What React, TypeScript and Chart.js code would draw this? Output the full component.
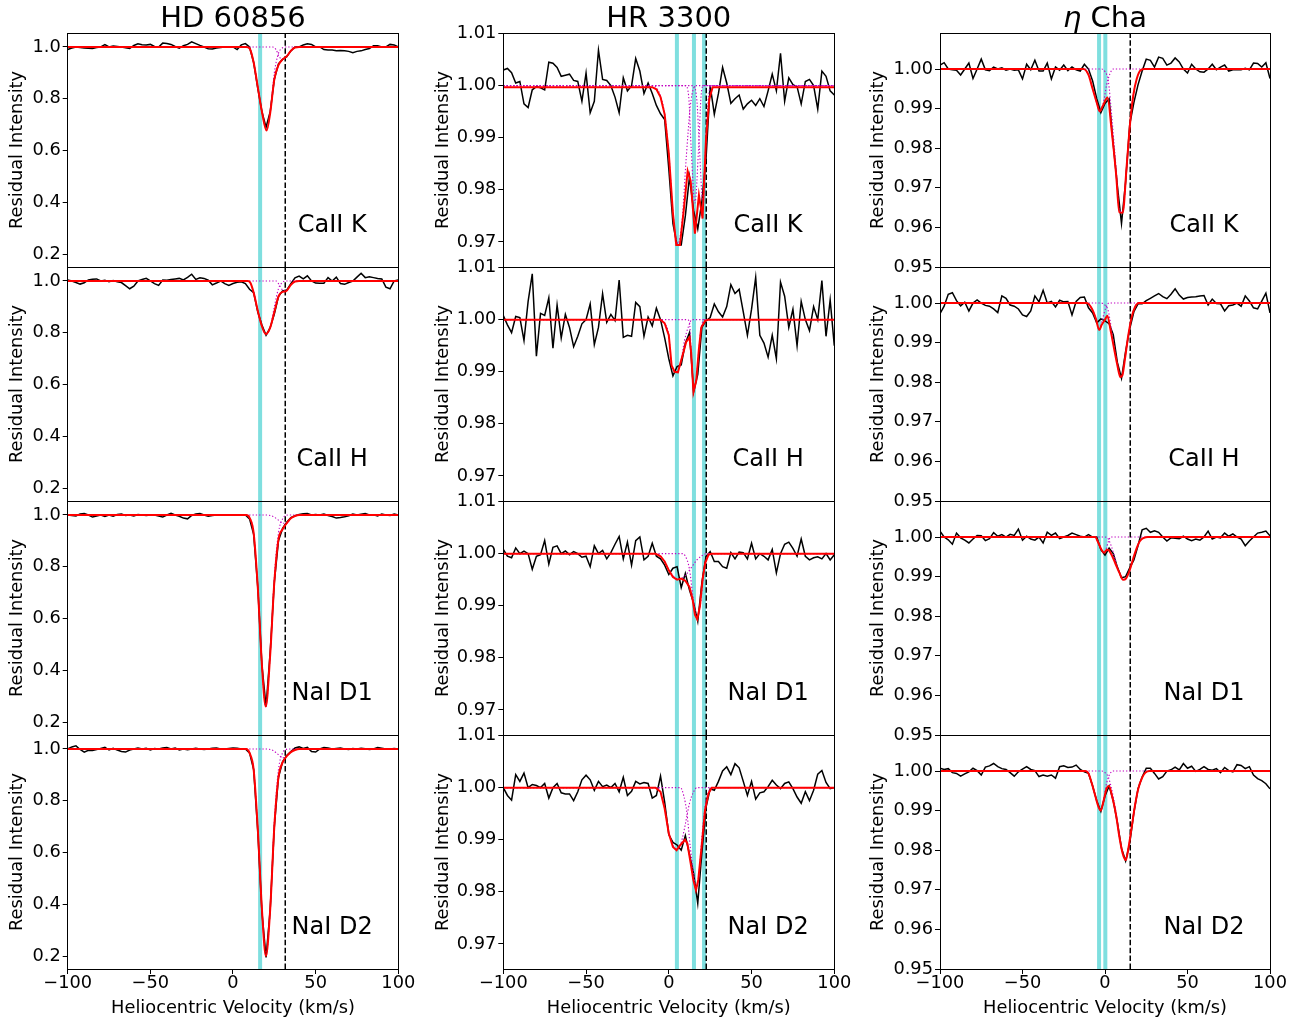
import React, { useEffect, useRef } from "react";
import { Chart, registerables } from "chart.js";

Chart.register(...registerables);

// ---------------- DATA ----------------
const VELOCITY = [
  -100, -97.5, -95, -92.5, -90, -87.5, -85, -82.5, -80, -77.5,
  -75, -72.5, -70, -67.5, -65, -62.5, -60, -57.5, -55, -52.5,
  -50, -47.5, -45, -42.5, -40, -37.5, -35, -32.5, -30, -27.5,
  -25, -22.5, -20, -17.5, -15, -12.5, -10, -7.5, -5, -2.5,
  0, 2.5, 5, 7.5, 10, 12.5, 15, 17.5, 20, 22.5,
  25, 27.5, 30, 32.5, 35, 37.5, 40, 42.5, 45, 47.5,
  50, 52.5, 55, 57.5, 60, 62.5, 65, 67.5, 70, 72.5,
  75, 77.5, 80, 82.5, 85, 87.5, 90, 92.5, 95, 97.5,
  100,
];

const STARS = ["HD 60856", "HR 3300", "η Cha"];
const LINES = ["CaII K", "CaII H", "NaI D1", "NaI D2"];
const X_TICKS = [-100, -50, 0, 50, 100];
const HD60856_Y_TICKS = [0.2, 0.4, 0.6, 0.8, 1.0];
const HR3300_Y_TICKS = [0.97, 0.98, 0.99, 1.0, 1.01];
const ETACHA_Y_TICKS = [0.95, 0.96, 0.97, 0.98, 0.99, 1.0];
const HD60856_Y_RANGE = [0.15, 1.054];
const HR3300_Y_RANGE = [0.9652, 1.0101];
const ETACHA_Y_RANGE = [0.95, 1.0091];

const HD60856_CLOUD_VEL = [16.4];
const HD60856_STAR_VEL = 31.6;
const HR3300_CLOUD_VEL = [4.9, 15.2, 21.3];
const HR3300_STAR_VEL = 22.5;
const ETACHA_CLOUD_VEL = [-3.6, 0.2];
const ETACHA_STAR_VEL = 15.3;

// observed spectra (on VELOCITY grid)
const HD60856_CAK = [
  0.99, 0.996, 1.0, 0.998, 0.996, 0.995, 0.994, 0.998, 1.0, 1.009,
  1.0, 1.004, 1.002, 1.0, 0.997, 0.994, 1.006, 1.012, 1.009, 1.008,
  1.01, 1.002, 1.0, 1.015, 1.013, 1.01, 1.002, 0.995, 1.005, 1.01,
  1.02, 1.013, 1.006, 1.0, 0.993, 0.992, 0.996, 0.998, 1.0, 1.0,
  1.0, 0.99, 1.008, 1.013, 1.0, 0.94, 0.84, 0.75, 0.69, 0.75,
  0.875, 0.935, 0.952, 0.962, 0.985, 1.0, 1.0, 1.008, 1.012, 1.01,
  1.0, 1.0, 0.99, 0.988, 0.988, 0.985, 0.986, 0.985, 0.983, 0.978,
  0.983, 0.985, 0.99, 0.994, 1.005, 1.005, 1.0, 1.0, 1.01, 1.008,
  1.0,
];
const HD60856_CAH = [
  1.004, 1.0, 0.994, 0.988, 0.993, 1.004, 1.007, 1.008, 1.0, 1.003,
  0.997, 1.002, 0.997, 0.994, 0.982, 0.97, 0.98, 1.0, 1.006, 1.01,
  1.0, 0.99, 0.983, 1.004, 1.003, 1.006, 1.008, 1.01, 1.004, 1.014,
  1.026, 1.006, 1.012, 1.01, 1.003, 0.985, 0.992, 1.0, 0.99, 0.983,
  0.99, 0.995, 0.997, 0.99, 0.968, 0.955, 0.88, 0.83, 0.79, 0.82,
  0.872, 0.94, 0.962, 0.965, 0.99, 1.012, 1.019, 1.008, 1.02, 1.0,
  0.992, 0.991, 0.991, 1.013, 1.0, 1.015, 0.99, 0.987, 0.994, 1.0,
  1.015, 1.03, 1.013, 1.016, 1.013, 1.01, 1.008, 0.976, 0.97, 1.0,
  1.004,
];
const HD60856_NAD1 = [
  1.0, 0.998, 0.996, 1.004, 1.006, 1.0, 0.992, 0.996, 1.0, 0.994,
  1.0, 0.995, 1.002, 1.004, 0.998, 1.0, 0.996, 1.002, 1.0, 0.998,
  1.0, 1.0, 0.996, 0.992, 1.0, 1.006, 1.0, 0.995, 0.988, 0.985,
  0.998, 1.004, 1.006, 1.0, 0.995, 0.998, 1.0, 1.0, 1.0, 0.999,
  1.0, 1.0, 1.001, 1.0, 0.985, 0.925, 0.72, 0.42, 0.26, 0.47,
  0.74, 0.9, 0.948, 0.972, 0.99, 0.997, 1.002, 1.005, 1.006, 1.0,
  1.002, 1.0, 1.004, 0.998, 0.994, 0.988, 0.99, 0.993, 0.997, 1.004,
  1.0, 1.003, 1.006, 1.0, 1.001, 0.996, 1.004, 1.0, 0.998, 1.004,
  1.0,
];
const HD60856_NAD2 = [
  1.0, 1.008, 1.012, 0.998, 0.988, 0.995, 0.994, 0.998, 1.002, 1.006,
  0.996, 1.003, 0.996, 0.99, 0.988, 0.996, 1.0, 1.004, 1.0, 1.003,
  0.996, 1.002, 1.0, 1.004, 1.006, 1.0, 1.004, 0.996, 1.0, 0.997,
  1.0, 1.003, 1.0, 0.998, 1.0, 1.003, 1.004, 1.0, 1.0, 1.002,
  1.004, 1.003, 1.0, 1.0, 0.985, 0.92, 0.68, 0.37, 0.195, 0.38,
  0.7, 0.89, 0.95, 0.975, 0.99, 1.004, 1.008, 1.002, 1.006, 0.99,
  0.988, 1.0, 1.006, 1.004, 1.0, 1.002, 1.004, 1.0, 0.998, 1.002,
  1.0, 1.003, 1.001, 0.998, 1.0, 1.006, 1.003, 1.0, 1.0, 1.002,
  1.0,
];
const HR3300_CAK = [
  1.003, 1.0033, 1.0025, 1.0005, 1.0008, 0.9965, 0.9958, 0.9992, 0.9998, 0.9996,
  0.9992, 1.0045, 1.0043, 1.0035, 1.0018, 1.002, 1.0022, 1.001, 1.0008, 0.997,
  1.0024, 0.9948, 0.997, 1.0068, 1.0012, 1.001, 1.0, 0.9978, 0.9948, 1.0015,
  0.999, 1.0, 1.0052, 1.0028, 0.9985, 1.0005, 0.9985, 0.9962, 0.9946, 0.9935,
  0.984, 0.9735, 0.9694, 0.9694, 0.975, 0.9825, 0.976, 0.9725, 0.9778, 0.986,
  1.0, 0.9945, 0.9985, 1.0035, 1.0005, 0.9966, 0.9975, 0.9982, 0.9955, 0.9965,
  0.9972, 0.9962, 0.9975, 0.996, 0.999, 1.0022, 0.999, 1.0062, 0.997, 1.0015,
  1.0002, 0.9998, 0.9965, 1.0008, 1.0012, 1.0, 0.9955, 1.0028, 1.0018, 0.999,
  0.9982,
];
const HR3300_CAH = [
  1.0008, 0.999, 0.9975, 1.0006, 1.0004, 0.996, 1.0035, 1.0088, 0.993, 1.0012,
  1.0008, 1.0042, 0.9945, 1.0028, 0.9965, 1.001, 0.9985, 0.9948, 0.9968, 0.9992,
  1.0, 1.003, 0.9952, 0.9985, 1.005, 0.9995, 1.001, 0.9998, 1.0076, 0.9966,
  0.997, 0.9968, 1.0033, 1.0025, 0.9968, 1.0005, 0.9988, 1.0022, 1.0, 0.9965,
  0.9925, 0.9892, 0.991, 0.9913, 0.9955, 0.9975, 0.9862, 0.9895, 0.9985, 0.9998,
  1.0004, 1.003, 1.0015, 1.0005, 1.0025, 1.0067, 1.005, 1.0058, 1.0015, 0.997,
  1.002, 1.0081, 0.997, 0.9955, 0.9928, 0.997, 0.9925, 1.0072, 1.0045, 0.9985,
  1.002, 0.995, 1.0035, 1.0, 0.9979, 1.0025, 1.0, 1.0075, 0.9968, 1.0038,
  0.995,
];
const HR3300_NAD1 = [
  1.0008, 0.9995, 0.9992, 1.0011, 1.0, 1.0005, 1.0, 0.997, 0.9995, 0.9998,
  1.0025, 0.998, 1.0012, 1.0015, 1.0, 1.0005, 0.9998, 1.0004, 1.0, 0.9993,
  0.9995, 0.9975, 1.0015, 1.0, 1.0006, 0.999, 1.0002, 1.0018, 1.0033, 0.999,
  1.0022, 0.9978, 1.0025, 1.0032, 0.9988, 0.9995, 1.002, 0.9995, 0.999, 0.9978,
  0.996, 0.9972, 0.9975, 0.9935, 0.9962, 0.993, 0.9905, 0.987, 0.9945, 0.9995,
  1.0004, 0.9985, 0.9985, 0.9975, 0.9972, 1.0002, 0.999, 1.0003, 1.0002, 0.999,
  1.002, 0.999, 1.0, 0.9995, 0.9988, 1.0008, 0.9963, 1.0, 1.0018, 1.0022,
  1.001, 0.9995, 1.0028, 0.9995, 0.9988, 0.9992, 0.9994, 0.999, 1.0, 0.9988,
  0.9998,
];
const HR3300_NAD2 = [
  1.0, 0.9985, 0.9976, 1.0025, 1.0012, 1.0028, 1.0, 1.0006, 1.0004, 1.0,
  1.0008, 0.998, 1.0, 1.0008, 0.999, 0.9988, 0.9988, 0.9975, 0.9992, 1.0015,
  1.0024, 1.0015, 0.9995, 1.0012, 1.0002, 1.0005, 1.0, 1.0008, 0.9992, 1.002,
  0.9985, 0.9993, 1.0012, 1.0007, 1.001, 1.0008, 0.998, 0.9985, 1.0022, 0.9972,
  0.991, 0.9895, 0.989, 0.988, 0.9908, 0.9872, 0.9835, 0.9778, 0.9875, 0.9962,
  0.9998, 0.9995, 1.0012, 1.0032, 1.004, 1.0025, 1.0046, 1.0038, 1.0012, 0.9985,
  1.0012, 0.9978, 0.999, 0.9992, 1.0002, 1.0014, 1.0005, 0.9998, 1.0008, 1.0011,
  0.9998, 0.9982, 0.997, 0.9992, 0.9975, 0.9995, 1.0026, 1.0033, 1.001, 0.9998,
  1.0,
];
const ETACHA_CAK = [
  1.001, 1.0016, 1.0, 0.9998, 0.9997, 0.9985, 1.0, 1.0015, 0.9976, 1.0,
  1.0025, 0.9998, 0.9996, 1.0005, 1.0, 1.0003, 0.9997, 1.0, 0.9997, 0.9998,
  0.9975, 1.0012, 0.9998, 1.0022, 0.9995, 0.9995, 1.0015, 0.9975, 1.0005, 0.9997,
  1.001, 0.9996, 1.0005, 0.9998, 0.9995, 1.0012, 1.0, 0.997, 0.9925, 0.989,
  0.9913, 0.9925, 0.981, 0.9705, 0.961, 0.9715, 0.986, 0.9915, 0.996, 0.9995,
  1.0025, 1.0022, 1.0005, 1.003, 1.0027, 1.001, 1.0015, 1.0028, 1.0018, 1.0,
  0.999, 1.0012, 1.0, 0.9993, 0.9992, 1.0, 1.0012, 0.9998, 1.0005, 1.001,
  0.9995, 0.9998, 0.9999, 0.9998, 1.0002, 0.9998, 1.0015, 1.0014, 1.0005, 1.0016,
  0.9976,
];
const ETACHA_CAH = [
  0.9973, 0.9992, 1.0022, 1.0026, 1.0006, 0.9993, 1.0002, 0.998, 1.0, 1.0008,
  1.0, 0.9994, 0.9992, 0.9985, 0.9976, 1.0018, 1.0012, 0.9995, 0.9992, 0.9985,
  0.997, 0.9966, 0.998, 1.0018, 1.0003, 1.0032, 1.0, 1.0004, 0.999, 1.0007,
  1.0003, 1.0004, 0.997, 1.0004, 1.0014, 1.0015, 0.9988, 0.9975, 0.995, 0.996,
  0.9955, 0.9948, 0.992, 0.985, 0.981, 0.9878, 0.9935, 0.9978, 0.9998, 0.9998,
  1.0006, 1.0012, 1.0018, 1.0024, 1.0016, 1.0011, 1.0022, 1.0036, 1.002, 1.001,
  1.0014, 1.0015, 1.0016, 1.0018, 1.0019, 0.9995, 1.001, 0.9999, 0.9998, 0.998,
  0.9993, 0.9995, 1.0, 0.9992, 1.0018, 1.0005, 0.9988, 0.9985, 1.0005, 1.0025,
  0.9975,
];
const ETACHA_NAD1 = [
  1.0015, 1.0, 0.9993, 0.9982, 1.001, 0.9998, 0.9992, 0.9985, 0.9995, 1.0004,
  1.0003, 0.9991, 0.9996, 1.0011, 1.0002, 1.0006, 1.0, 1.0007, 1.0004, 1.002,
  0.9992, 1.0002, 0.9995, 0.9992, 1.0, 0.9985, 1.0012, 1.0004, 1.001, 0.9996,
  1.0, 1.0004, 1.001, 1.0006, 1.0002, 1.0, 1.0006, 1.0, 1.0, 0.9968,
  0.9954, 0.9972, 0.9958, 0.9924, 0.9897, 0.99, 0.9922, 0.9942, 0.9978, 1.0018,
  1.0022, 1.0012, 1.0016, 1.0012, 1.0, 0.999, 0.9998, 0.9997, 0.9996, 1.0002,
  0.9995, 0.9991, 0.9995, 0.9992, 1.0, 1.0015, 0.9995, 1.0, 0.9998, 1.001,
  1.0002, 1.0008, 1.0, 0.9995, 0.9978, 0.999, 1.0, 1.001, 1.0012, 1.0015,
  1.0003,
];
const ETACHA_NAD2 = [
  1.0007, 1.0004, 1.0006, 0.9996, 0.9994, 0.9987, 0.9993, 0.9998, 1.0007, 1.0001,
  0.999, 1.001, 1.0013, 1.0019, 1.0011, 1.0006, 1.0004, 0.9996, 0.9987, 0.9998,
  1.0005, 1.0011, 1.0004, 1.0001, 0.9986, 0.999, 0.9987, 0.999, 0.9982, 1.0011,
  1.0013, 1.0009, 1.001, 1.0015, 1.0004, 0.9998, 0.9994, 0.9962, 0.9925, 0.9898,
  0.9937, 0.9962, 0.9925, 0.987, 0.9805, 0.9773, 0.9818, 0.9895, 0.9955, 0.9985,
  1.0007, 1.0007, 0.9994, 0.998, 0.9986, 1.0, 1.0003, 1.001, 1.0003, 1.0019,
  1.0007, 1.0012, 0.9999, 1.0004, 1.0011, 1.0004, 1.0002, 1.0006, 0.9996, 1.0009,
  1.0001, 0.9998, 1.0016, 1.0014, 1.0006, 1.0011, 0.999, 0.9981, 0.9976, 0.9968,
  0.9955,
];

// fitted profiles [velocity, intensity]
const HD60856_CAK_FIT = [[-100, 1], [8, 1], [10, 0.995], [12.5, 0.94], [15, 0.845], [17.5, 0.75], [20.3, 0.677], [22.5, 0.745], [25, 0.875], [27.5, 0.93], [30, 0.952], [32.5, 0.964], [35, 0.985], [37.5, 0.998], [40, 1], [100, 1]];
const HD60856_CAK_C1 = [[-100, 1], [8, 1], [10, 0.995], [12.5, 0.94], [15, 0.845], [17.5, 0.75], [20.3, 0.68], [22.5, 0.75], [25, 0.9], [27.5, 0.975], [30, 0.997], [32, 1], [100, 1]];
const HD60856_CAK_C2 = [[-100, 1], [24, 1], [26, 0.99], [28, 0.962], [30, 0.952], [32.5, 0.964], [35, 0.985], [37.5, 0.998], [40, 1], [100, 1]];
const HD60856_CAH_FIT = [[-100, 1], [9, 1], [10.5, 0.993], [12.5, 0.955], [15, 0.885], [17.5, 0.825], [19.8, 0.795], [22.5, 0.82], [25, 0.88], [27.5, 0.94], [30, 0.958], [32, 0.96], [35, 0.985], [37.5, 0.998], [40, 1], [100, 1]];
const HD60856_CAH_C1 = [[-100, 1], [9, 1], [10.5, 0.993], [12.5, 0.955], [15, 0.885], [17.5, 0.825], [19.8, 0.795], [22.5, 0.82], [25, 0.9], [27.5, 0.97], [30, 0.995], [32, 1], [100, 1]];
const HD60856_CAH_C2 = [[-100, 1], [26, 1], [28, 0.985], [30, 0.965], [32, 0.962], [35, 0.985], [37.5, 0.998], [40, 1], [100, 1]];
const HD60856_NAD1_FIT = [[-100, 1], [8, 1], [10, 0.99], [12.5, 0.93], [15, 0.72], [17.5, 0.42], [19.8, 0.26], [22.5, 0.46], [25, 0.74], [27.5, 0.905], [30, 0.945], [32.5, 0.968], [35, 0.987], [37.5, 0.996], [40, 1], [100, 1]];
const HD60856_NAD1_C1 = [[-100, 1], [8, 1], [10, 0.99], [12.5, 0.93], [15, 0.72], [17.5, 0.42], [19.8, 0.26], [22.5, 0.46], [25, 0.76], [27.5, 0.93], [30, 0.985], [32, 0.998], [34, 1], [100, 1]];
const HD60856_NAD1_C2 = [[-100, 1], [20, 1], [24, 0.995], [27.5, 0.98], [30, 0.968], [32.5, 0.968], [35, 0.987], [37.5, 0.996], [40, 1], [100, 1]];
const HD60856_NAD2_FIT = [[-100, 1], [8, 1], [10, 0.985], [12.5, 0.92], [15, 0.69], [17.5, 0.38], [19.9, 0.2], [22.5, 0.38], [25, 0.7], [27.5, 0.89], [30, 0.948], [32.5, 0.972], [35, 0.988], [37.5, 0.996], [40, 1], [100, 1]];
const HD60856_NAD2_C1 = [[-100, 1], [8, 1], [10, 0.985], [12.5, 0.92], [15, 0.69], [17.5, 0.38], [19.9, 0.2], [22.5, 0.38], [25, 0.72], [27.5, 0.92], [30, 0.985], [32, 0.998], [34, 1], [100, 1]];
const HD60856_NAD2_C2 = [[-100, 1], [20, 1], [24, 0.995], [27.5, 0.978], [30, 0.966], [32.5, 0.972], [35, 0.988], [37.5, 0.996], [40, 1], [100, 1]];

const HR3300_CAK_FIT = [[-100, 0.9997], [-10, 0.9997], [-7.5, 0.9993], [-5, 0.9978], [-2.5, 0.9945], [0, 0.987], [2.5, 0.9755], [4.5, 0.9694], [6.7, 0.9694], [9, 0.976], [11.4, 0.9836], [13.2, 0.9817], [15.8, 0.9716], [18.2, 0.979], [20.4, 0.9745], [22.5, 0.9898], [24.5, 0.9975], [26.5, 0.9997], [100, 0.9997]];
const HR3300_CAK_C1 = [[-100, 1], [-10, 1], [-7.5, 0.9996], [-5, 0.998], [-2.5, 0.9945], [0, 0.987], [2.5, 0.9758], [5.5, 0.9697], [8, 0.974], [10.5, 0.986], [13, 0.996], [15, 0.9995], [17, 1], [100, 1]];
const HR3300_CAK_C2 = [[-100, 1], [10, 1], [12, 0.998], [13.5, 0.988], [15.8, 0.9775], [18, 0.988], [19.5, 0.998], [21, 1], [100, 1]];
const HR3300_CAK_C3 = [[-100, 1], [15, 1], [17, 0.997], [18.5, 0.988], [20.5, 0.978], [22.5, 0.99], [24, 0.998], [26, 1], [100, 1]];
const HR3300_CAH_FIT = [[-100, 1], [-5, 1], [-2.5, 0.9993], [0, 0.997], [1.7, 0.9912], [3.5, 0.99], [5.5, 0.9899], [8, 0.9928], [10.5, 0.9957], [12.5, 0.9966], [13.5, 0.9937], [14.9, 0.9861], [16.6, 0.9883], [18.2, 0.9944], [19.6, 0.9985], [22, 0.9998], [24, 1], [100, 1]];
const HR3300_CAH_C1 = [[-100, 1], [-5, 1], [-2.5, 0.9993], [0, 0.997], [1.7, 0.9912], [4.5, 0.99], [7, 0.9915], [9.5, 0.996], [12, 0.9988], [14, 1], [100, 1]];
const HR3300_CAH_C2 = [[-100, 1], [11, 1], [12.5, 0.9995], [13.5, 0.994], [15, 0.9865], [16.6, 0.9885], [18.2, 0.9945], [19.6, 0.9985], [21.5, 1], [100, 1]];
const HR3300_NAD1_FIT = [[-100, 1], [-8, 1], [-5, 0.9995], [-2.5, 0.9985], [0, 0.9968], [2.5, 0.9955], [5, 0.995], [7.5, 0.9952], [10, 0.9948], [12.5, 0.9936], [14.4, 0.9912], [15.8, 0.9883], [17.2, 0.9874], [18.8, 0.9899], [20.4, 0.995], [22, 0.9982], [24, 0.9998], [26, 1], [100, 1]];
const HR3300_NAD1_C1 = [[-100, 1], [-8, 1], [-5, 0.9995], [-2.5, 0.9985], [0, 0.997], [2.5, 0.9958], [5, 0.9952], [8, 0.9953], [11, 0.9962], [14, 0.9975], [17, 0.9988], [20, 0.9996], [23, 1], [100, 1]];
const HR3300_NAD1_C2 = [[-100, 1], [8, 1], [10, 0.9995], [12.5, 0.997], [14.5, 0.992], [17, 0.988], [19, 0.99], [21, 0.996], [23, 0.9993], [25, 1], [100, 1]];
const HR3300_NAD2_FIT = [[-100, 1], [-8, 1], [-5, 0.9992], [-2.5, 0.996], [0, 0.9912], [2.5, 0.9886], [4.7, 0.988], [7, 0.989], [9.8, 0.99], [11.2, 0.9893], [13.2, 0.9855], [14.8, 0.9823], [16.4, 0.9803], [17.8, 0.9823], [19.8, 0.9886], [21.9, 0.9957], [24, 0.9989], [26, 1], [100, 1]];
const HR3300_NAD2_C1 = [[-100, 1], [-8, 1], [-5, 0.9992], [-2.5, 0.996], [0, 0.9915], [2.5, 0.989], [5, 0.9882], [7.5, 0.9895], [10, 0.993], [12.5, 0.997], [15, 0.9992], [17, 1], [100, 1]];
const HR3300_NAD2_C2 = [[-100, 1], [7, 1], [9, 0.9985], [11, 0.995], [13, 0.9885], [15, 0.9835], [16.5, 0.9805], [18, 0.9825], [20, 0.9905], [22, 0.9965], [24, 0.9992], [26, 1], [100, 1]];

const ETACHA_CAK_FIT = [[-100, 1], [-13, 1], [-10, 0.9985], [-7.5, 0.995], [-5, 0.9915], [-3.2, 0.9893], [-1, 0.991], [1.5, 0.9928], [4, 0.9846], [6.7, 0.9736], [8.7, 0.9638], [10.7, 0.9637], [13.1, 0.9753], [15.2, 0.9863], [17.2, 0.9935], [19.2, 0.9975], [21.6, 0.9997], [24, 1], [100, 1]];
const ETACHA_CAK_C1 = [[-100, 1], [-13, 1], [-10, 0.9985], [-7.5, 0.995], [-5, 0.9915], [-3.2, 0.9893], [-1, 0.9915], [1, 0.996], [3, 0.9988], [5, 1], [100, 1]];
const ETACHA_CAK_C2 = [[-100, 1], [-2, 1], [0, 0.9993], [2, 0.997], [4, 0.9885], [6.7, 0.975], [8.7, 0.9642], [10.7, 0.964], [13.1, 0.9753], [15.2, 0.9863], [17.2, 0.9935], [19.2, 0.9975], [21.6, 0.9997], [24, 1], [100, 1]];
const ETACHA_CAH_FIT = [[-100, 1], [-11, 1], [-8, 0.9986], [-5.5, 0.996], [-3.5, 0.9932], [-2, 0.9945], [0, 0.9958], [1.4, 0.9968], [3.4, 0.9931], [5.5, 0.9885], [7.5, 0.9843], [9.3, 0.9813], [10.5, 0.9817], [12.1, 0.9859], [14.1, 0.9918], [16.2, 0.9965], [18.2, 0.999], [20.5, 1], [100, 1]];
const ETACHA_CAH_C1 = [[-100, 1], [-11, 1], [-8, 0.9986], [-5.5, 0.996], [-3.5, 0.9932], [-1.5, 0.996], [0.5, 0.9988], [2.5, 1], [100, 1]];
const ETACHA_CAH_C2 = [[-100, 1], [-3, 1], [0, 0.9995], [2, 0.998], [3.5, 0.9945], [5.5, 0.989], [7.5, 0.9845], [9.3, 0.9813], [10.5, 0.9817], [12.1, 0.9859], [14.1, 0.9918], [16.2, 0.9965], [18.2, 0.999], [20.5, 1], [100, 1]];
const ETACHA_NAD1_FIT = [[-100, 1], [-6, 1], [-4, 0.9985], [-2, 0.9967], [-0.5, 0.996], [1.2, 0.9968], [2.5, 0.9966], [4, 0.9955], [6.1, 0.9935], [8.7, 0.991], [11, 0.9892], [12.7, 0.9895], [14.7, 0.9913], [17.2, 0.9947], [19.2, 0.9972], [21.2, 0.999], [23.6, 0.9998], [26, 1], [100, 1]];
const ETACHA_NAD1_C1 = [[-100, 1], [-6, 1], [-4, 0.9985], [-2, 0.9967], [-0.8, 0.996], [0.5, 0.9968], [2, 0.9988], [3.5, 1], [100, 1]];
const ETACHA_NAD1_C2 = [[-100, 1], [0, 1], [2, 0.9995], [4, 0.9975], [6.1, 0.9945], [8.7, 0.991], [11, 0.9892], [12.7, 0.9895], [14.7, 0.9913], [17.2, 0.9947], [19.2, 0.9972], [21.2, 0.999], [23.6, 0.9998], [26, 1], [100, 1]];
const ETACHA_NAD2_FIT = [[-100, 1], [-12, 1], [-10, 0.9994], [-8, 0.9969], [-6, 0.9939], [-4, 0.991], [-2.6, 0.99], [-1, 0.9922], [1, 0.9956], [2.4, 0.9962], [4.6, 0.9931], [6.7, 0.9889], [8.7, 0.9834], [10.7, 0.9792], [12.6, 0.9775], [14.1, 0.9803], [16.2, 0.9859], [18.2, 0.9914], [20.2, 0.9956], [22.6, 0.9984], [24.5, 0.9996], [27, 1], [100, 1]];
const ETACHA_NAD2_C1 = [[-100, 1], [-12, 1], [-10, 0.9994], [-8, 0.9969], [-6, 0.9939], [-4, 0.991], [-2.7, 0.99], [-1, 0.9925], [1, 0.997], [3, 0.9993], [5, 1], [100, 1]];
const ETACHA_NAD2_C2 = [[-100, 1], [-2, 1], [0, 0.9996], [2, 0.9985], [4, 0.9955], [6.7, 0.9895], [8.7, 0.9835], [10.7, 0.9792], [12.6, 0.9775], [14.1, 0.9803], [16.2, 0.9859], [18.2, 0.9914], [20.2, 0.9956], [22.6, 0.9984], [24.5, 0.9996], [27, 1], [100, 1]];

// ---------------- LAYOUT / STYLE ----------------
const W = 1311;
const H = 1026;
const FONT = '"DejaVu Sans", sans-serif';
const ROW_EDGES = [33, 267, 501, 735, 969];
const X_AXIS_H = 57;

const COLUMNS = [
  {
    title: [{ text: "HD 60856", italic: false }],
    left: 67.7, right: 398.3, yw: 62, ytPad: 1.1, dec: 1, smoothFit: true,
    yRange: HD60856_Y_RANGE, yTicks: HD60856_Y_TICKS,
    cloud: HD60856_CLOUD_VEL, star: HD60856_STAR_VEL,
    rows: [
      { obs: HD60856_CAK, fit: HD60856_CAK_FIT, comps: [HD60856_CAK_C1, HD60856_CAK_C2] },
      { obs: HD60856_CAH, fit: HD60856_CAH_FIT, comps: [HD60856_CAH_C1, HD60856_CAH_C2] },
      { obs: HD60856_NAD1, fit: HD60856_NAD1_FIT, comps: [HD60856_NAD1_C1, HD60856_NAD1_C2] },
      { obs: HD60856_NAD2, fit: HD60856_NAD2_FIT, comps: [HD60856_NAD2_C1, HD60856_NAD2_C2] },
    ],
  },
  {
    title: [{ text: "HR 3300", italic: false }],
    left: 503.3, right: 834.3, yw: 72, ytPad: 1.5, dec: 2, smoothFit: false,
    yRange: HR3300_Y_RANGE, yTicks: HR3300_Y_TICKS,
    cloud: HR3300_CLOUD_VEL, star: HR3300_STAR_VEL,
    rows: [
      { obs: HR3300_CAK, fit: HR3300_CAK_FIT, comps: [HR3300_CAK_C1, HR3300_CAK_C2, HR3300_CAK_C3] },
      { obs: HR3300_CAH, fit: HR3300_CAH_FIT, comps: [HR3300_CAH_C1, HR3300_CAH_C2] },
      { obs: HR3300_NAD1, fit: HR3300_NAD1_FIT, comps: [HR3300_NAD1_C1, HR3300_NAD1_C2] },
      { obs: HR3300_NAD2, fit: HR3300_NAD2_FIT, comps: [HR3300_NAD2_C1, HR3300_NAD2_C2] },
    ],
  },
  {
    title: [{ text: "η", italic: true }, { text: " Cha", italic: false }],
    left: 940, right: 1270, yw: 73, ytPad: 0.6, dec: 2, smoothFit: true,
    yRange: ETACHA_Y_RANGE, yTicks: ETACHA_Y_TICKS,
    cloud: ETACHA_CLOUD_VEL, star: ETACHA_STAR_VEL,
    rows: [
      { obs: ETACHA_CAK, fit: ETACHA_CAK_FIT, comps: [ETACHA_CAK_C1, ETACHA_CAK_C2] },
      { obs: ETACHA_CAH, fit: ETACHA_CAH_FIT, comps: [ETACHA_CAH_C1, ETACHA_CAH_C2] },
      { obs: ETACHA_NAD1, fit: ETACHA_NAD1_FIT, comps: [ETACHA_NAD1_C1, ETACHA_NAD1_C2] },
      { obs: ETACHA_NAD2, fit: ETACHA_NAD2_FIT, comps: [ETACHA_NAD2_C1, ETACHA_NAD2_C2] },
    ],
  },
];

type PanelSpec = { col: number; row: number };

const PANELS: PanelSpec[] = [];
for (let c = 0; c < 3; c++) for (let r = 0; r < 4; r++) PANELS.push({ col: c, row: r });

function pairs(arr: number[][]) {
  return arr.map((p) => ({ x: p[0], y: p[1] }));
}

function makeConfig(spec: PanelSpec): any {
  const col = COLUMNS[spec.col];
  const rowData = col.rows[spec.row];
  const isTop = spec.row === 0;
  const isBottom = spec.row === 3;
  const top = ROW_EDGES[spec.row];
  const bottom = ROW_EDGES[spec.row + 1];
  const label = LINES[spec.row];

  const obsPts = VELOCITY.map((v, i) => ({ x: v, y: rowData.obs[i] }));

  const decor = {
    id: "panelDecor" + spec.col + spec.row,
    beforeDatasetsDraw(chart: any) {
      const { ctx, chartArea: a } = chart;
      const xs = chart.scales.x;
      ctx.save();
      ctx.beginPath();
      ctx.rect(a.left, a.top, a.right - a.left, a.bottom - a.top);
      ctx.clip();
      ctx.strokeStyle = "rgba(0,191,191,0.5)";
      ctx.lineWidth = 4;
      for (const v of col.cloud) {
        const px = xs.getPixelForValue(v);
        ctx.beginPath();
        ctx.moveTo(px, a.top);
        ctx.lineTo(px, a.bottom);
        ctx.stroke();
      }
      ctx.strokeStyle = "#000";
      ctx.lineWidth = 1.5;
      ctx.setLineDash([5.5, 2.4]);
      const dx = Math.round(xs.getPixelForValue(col.star)) + 0.25;
      ctx.beginPath();
      ctx.moveTo(dx, a.bottom);
      ctx.lineTo(dx, a.top);
      ctx.stroke();
      ctx.restore();
    },
    afterDraw(chart: any) {
      const { ctx, chartArea: a } = chart;
      ctx.save();
      ctx.strokeStyle = "#000";
      ctx.lineWidth = 1;
      const l = Math.floor(a.left) + 0.5;
      const r = Math.floor(a.right) + 0.5;
      const t = Math.floor(a.top) + 0.5;
      const b = Math.floor(a.bottom) + 0.5;
      ctx.strokeRect(l, t, r - l, b - t);
      ctx.fillStyle = "#000";
      ctx.font = `24px ${FONT}`;
      ctx.textAlign = "center";
      ctx.textBaseline = "alphabetic";
      ctx.fillText(label, a.left + 0.8 * (a.right - a.left), a.top + 0.852 * (a.bottom - a.top));
      if (isTop) {
        const fontFor = (it: boolean) => `${it ? "italic " : ""}29px ${FONT}`;
        const widths = col.title.map((s) => {
          ctx.font = fontFor(s.italic);
          return ctx.measureText(s.text).width;
        });
        const total = widths.reduce((p, q) => p + q, 0);
        let x0 = (a.left + a.right) / 2 - total / 2;
        ctx.textAlign = "left";
        col.title.forEach((s, i) => {
          ctx.font = fontFor(s.italic);
          ctx.fillText(s.text, x0, 26.7);
          x0 += widths[i];
        });
      }
      ctx.restore();
    },
  };

  const datasets: any[] = [];
  datasets.push({
    data: pairs(rowData.fit),
    borderColor: "#ff0000",
    borderWidth: 2,
    pointRadius: 0,
    tension: 0,
    cubicInterpolationMode: col.smoothFit ? "monotone" : "default",
  });
  rowData.comps.forEach((c) =>
    datasets.push({
      data: pairs(c),
      borderColor: "#c000c0",
      borderWidth: 1.1,
      borderDash: [1.3, 2],
      pointRadius: 0,
      cubicInterpolationMode: "monotone",
    })
  );
  datasets.push({
    data: obsPts,
    borderColor: "#000000",
    borderWidth: 1.5,
    pointRadius: 0,
    tension: 0,
  });

  const tickFont = { family: FONT, size: 17.8, lineHeight: 1 };
  const titleFont = { family: FONT, size: 17.8, lineHeight: 1.2 };

  const xScale: any = isBottom
    ? {
        type: "linear",
        min: -100,
        max: 100,
        display: true,
        afterBuildTicks: (s: any) => {
          s.ticks = X_TICKS.map((v) => ({ value: v }));
        },
        afterFit: (s: any) => {
          s.height = X_AXIS_H;
        },
        grid: { display: true, drawOnChartArea: false, drawTicks: true, tickLength: 5, color: "#000", lineWidth: 1 },
        border: { display: false },
        ticks: {
          color: "#000",
          font: tickFont,
          padding: 0,
          autoSkip: false,
          maxRotation: 0,
          callback: (v: number) => (v < 0 ? "\u2212" + Math.abs(v) : String(v)),
        },
        title: {
          display: true,
          text: "Heliocentric Velocity (km/s)",
          color: "#000",
          font: titleFont,
          padding: { top: 0, bottom: 7 },
        },
      }
    : { type: "linear", min: -100, max: 100, display: false };

  return {
    type: "line",
    data: { datasets },
    options: {
      animation: false,
      responsive: false,
      devicePixelRatio: 1,
      events: [],
      layout: {
        padding: {
          left: col.left - col.yw,
          right: W - col.right,
          top: top,
          bottom: H - bottom - (isBottom ? X_AXIS_H : 0),
        },
      },
      plugins: { legend: { display: false }, tooltip: { enabled: false }, title: { display: false } },
      scales: {
        x: xScale,
        y: {
          type: "linear",
          min: col.yRange[0],
          max: col.yRange[1],
          afterBuildTicks: (s: any) => {
            s.ticks = col.yTicks.map((v) => ({ value: v }));
          },
          afterFit: (s: any) => {
            s.width = col.yw;
          },
          grid: { display: true, drawOnChartArea: false, drawTicks: true, tickLength: 5, color: "#000", lineWidth: 1 },
          border: { display: false },
          ticks: {
            color: "#000",
            font: tickFont,
            padding: 2,
            autoSkip: false,
            callback: (v: number) => Number(v).toFixed(col.dec),
          },
          title: {
            display: true,
            text: "Residual Intensity",
            color: "#000",
            font: titleFont,
            padding: { top: col.ytPad, bottom: 0 },
          },
        },
      },
    },
    plugins: [decor],
  };
}

function Panel({ spec }: { spec: PanelSpec }) {
  const ref = useRef<HTMLCanvasElement>(null);
  useEffect(() => {
    if (!ref.current) return;
    const chart = new Chart(ref.current, makeConfig(spec));
    return () => chart.destroy();
  }, [spec]);
  return (
    <canvas
      ref={ref}
      width={W}
      height={H}
      style={{ position: "absolute", left: 0, top: 0, width: W, height: H }}
    />
  );
}

export default function App() {
  return (
    <div style={{ position: "absolute", left: 0, top: 0, width: W, height: H, background: "#fff", overflow: "hidden" }}>
      {PANELS.map((p) => (
        <Panel key={`${p.col}-${p.row}`} spec={p} />
      ))}
    </div>
  );
}
